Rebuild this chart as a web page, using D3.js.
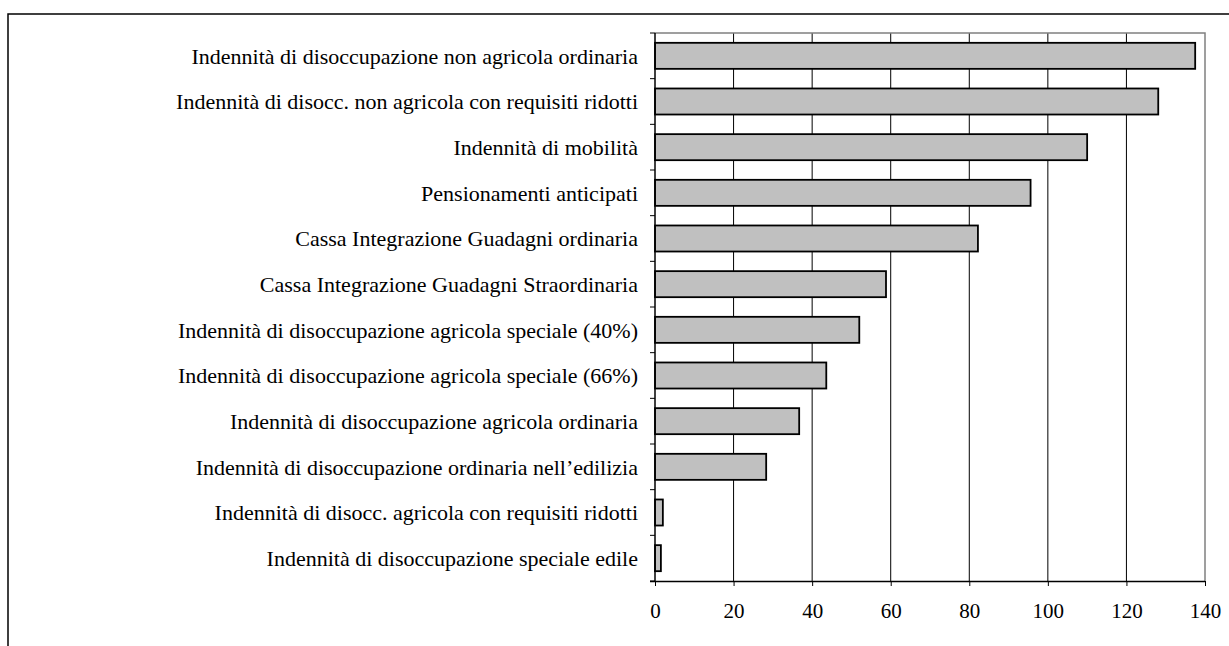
<!DOCTYPE html>
<html><head><meta charset="utf-8">
<script src="https://cdn.jsdelivr.net/npm/d3@7"></script>
<style>body{margin:0;background:#fff}svg{display:block}svg text{font-family:"Liberation Serif","Times New Roman",serif}</style>
</head><body>
<script>
const categories = [
  "Indennità di disoccupazione non agricola ordinaria",
  "Indennità di disocc. non agricola con requisiti ridotti",
  "Indennità di mobilità",
  "Pensionamenti anticipati",
  "Cassa Integrazione Guadagni ordinaria",
  "Cassa Integrazione Guadagni Straordinaria",
  "Indennità di disoccupazione agricola speciale (40%)",
  "Indennità di disoccupazione agricola speciale (66%)",
  "Indennità di disoccupazione agricola ordinaria",
  "Indennità di disoccupazione ordinaria nell’edilizia",
  "Indennità di disocc. agricola con requisiti ridotti",
  "Indennità di disoccupazione speciale edile"
];
const values = [137.5, 128.1, 110.0, 95.6, 82.2, 58.8, 52.0, 43.6, 36.7, 28.3, 2.0, 1.5];
const xTicks = [0, 20, 40, 60, 80, 100, 120, 140];

const W = 1229, H = 646;
const svg = d3.select("body").append("svg").attr("width", W).attr("height", H);

// outer frame
svg.append("rect").attr("x", 8).attr("y", 14).attr("width", 1400).attr("height", 1000)
  .attr("fill", "none").attr("stroke", "#000").attr("stroke-width", 1.5);

const L = 655, R = 1205, T = 33, B = 581;
const x = d3.scaleLinear().domain([0, 140]).range([L, R]);
const y = d3.scaleBand().domain(categories).range([T, B]).paddingInner(0.43).paddingOuter(0.215);

// gridlines
svg.append("g").selectAll("line").data(xTicks.slice(1, -1)).join("line")
  .attr("x1", d => x(d)).attr("x2", d => x(d)).attr("y1", T).attr("y2", B)
  .attr("stroke", "#000").attr("stroke-width", 1);

// plot border top/right
svg.append("path").attr("d", `M${L},${T}H${R}V${B}`).attr("fill", "none")
  .attr("stroke", "#808080").attr("stroke-width", 1.5);

// bars
svg.append("g").selectAll("rect").data(values).join("rect")
  .attr("x", x(0)).attr("y", (d, i) => y(categories[i]))
  .attr("width", d => x(d) - x(0)).attr("height", y.bandwidth())
  .attr("fill", "#c0c0c0").attr("stroke", "#000").attr("stroke-width", 1.8);

// x axis
const xAxis = d3.axisBottom(x).tickValues(xTicks).tickSize(5).tickPadding(17).tickSizeOuter(0);
const gx = svg.append("g").attr("transform", `translate(0,${B})`).call(xAxis);
gx.select(".domain").attr("stroke", "#000").attr("stroke-width", 1.5).attr("d", `M${L-5},0.5H${R}`);
gx.selectAll(".tick line").attr("stroke", "#000");
gx.selectAll("text").attr("font-family", null).attr("font-size", 21).attr("fill", "#000");

// y axis with ticks at band boundaries
const bounds = d3.range(categories.length + 1).map(i => T + i * (B - T) / categories.length);
svg.append("line").attr("x1", L).attr("x2", L).attr("y1", T).attr("y2", B)
  .attr("stroke", "#000").attr("stroke-width", 1.5);
svg.append("g").selectAll("line").data(bounds).join("line")
  .attr("x1", L - 5).attr("x2", L).attr("y1", d => d).attr("y2", d => d)
  .attr("stroke", "#000").attr("stroke-width", 1);

// labels
svg.append("g").selectAll("text").data(categories).join("text")
  .attr("x", L - 17).attr("y", d => y(d) + y.bandwidth() / 2)
  .attr("dy", "0.36em").attr("text-anchor", "end")
  .attr("font-size", 22).attr("fill", "#000")
  .text(d => d);
</script>
</body></html>
